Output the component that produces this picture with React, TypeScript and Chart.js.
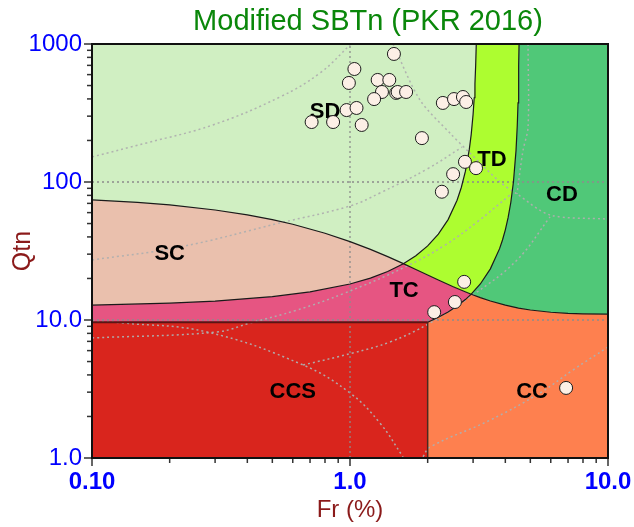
import React, { useEffect, useRef } from 'react';
import { Chart, registerables } from 'chart.js';

Chart.register(...registerables);

const FONT = '"Liberation Sans", Arial, Helvetica, sans-serif';

// ---------- text ----------
const TITLE = 'Modified SBTn (PKR 2016)';
const X_TITLE = 'Fr (%)';
const Y_TITLE = 'Qtn';
const X_TICKS = [0.1, 1, 10];
const X_TICK_LABELS = ['0.10', '1.0', '10.0'];
const Y_TICKS = [1, 10, 100, 1000];
const Y_TICK_LABELS = ['1.0', '10.0', '100', '1000'];
const MINOR_MULTS = [2, 3, 4, 5, 6, 7, 8, 9];

// ---------- CPT data points ----------
const frValues = [1.48, 1.04, 0.99, 1.28, 1.42, 1.33, 1.24, 1.51, 1.53, 1.65, 2.29, 2.53, 2.74, 2.82, 0.97, 1.06, 1.11, 0.86, 0.71, 1.9, 2.79, 3.08, 2.51, 2.27, 2.77, 2.55, 2.12, 6.88];
const qtnValues = [847, 659, 522, 549, 549, 449, 399, 442, 449, 449, 374, 399, 413, 380, 332, 344, 259, 272, 272, 208, 140, 126, 114, 85, 18.9, 13.5, 11.4, 3.22];

// ---------- zone labels ----------
const zoneNames = ['SD', 'TD', 'CD', 'SC', 'TC', 'CCS', 'CC'];
const zoneLabelFr = [0.8, 3.55, 6.63, 0.2, 1.62, 0.6, 5.08];
const zoneLabelQ = [322, 144, 80.5, 30, 16.2, 3.0, 3.0];

// ---------- axis limits ----------
const FR_RANGE = [0.1, 10];
const Q_RANGE = [1, 1000];

// ---------- zone boundaries ----------
// CD = 70 boundary
const cd70LeftFr = [0.1, 0.15, 0.2, 0.3, 0.4, 0.5, 0.6, 0.8, 1.0, 1.2, 1.4, 1.61];
const cd70LeftQ = [74.2, 71.1, 68.2, 62.7, 57.8, 53.4, 49.4, 42.5, 37.0, 32.5, 28.8, 25.6];
const cd70MidFr = [1.61, 1.8, 2.0, 2.2, 2.5, 2.75, 2.95];
const cd70MidQ = [25.6, 23.2, 21.2, 19.5, 17.5, 16.22, 15.38];
const cd70RightFr = [2.95, 3.2, 3.5, 4.0, 4.5, 5.0, 6.0, 7.0, 8.0, 10.0];
const cd70RightQ = [15.38, 14.54, 13.74, 12.81, 12.2, 11.81, 11.38, 11.18, 11.09, 11.02];
// IB = 32 boundary
const ib32LowFr = [0.1, 0.2, 0.3, 0.5, 0.7, 1.0, 1.2, 1.4, 1.61];
const ib32LowQ = [12.81, 13.25, 13.72, 14.76, 15.98, 18.24, 20.13, 22.46, 25.6];
const ib32HighFr = [1.61, 1.8, 2.0, 2.2, 2.4, 2.6, 2.7, 2.8, 2.9, 2.95, 3.0, 3.03, 3.05, 3.07, 3.0862];
const ib32HighQ = [25.6, 29.25, 34.44, 41.9, 53.4, 73.8, 91.2, 119.2, 172.2, 221.4, 310, 407.9, 516.7, 704.5, 1000];
// IB = 22 boundary
const ib22LowFr = [2.0, 2.2, 2.4, 2.6, 2.8, 2.95];
const ib22LowQ = [9.643, 10.47, 11.44, 12.62, 14.06, 15.38];
const ib22HighFr = [2.95, 3.2, 3.5, 3.8, 3.9, 4.0, 4.1, 4.2, 4.3, 4.4, 4.45, 4.48, 4.5, 4.51, 4.521];
const ib22HighQ = [15.38, 18.24, 23.48, 32.9, 38.0, 45.0, 55.1, 71.05, 100, 168.75, 257, 375, 540, 692, 1000];
// CCS / CC limits
const ccsTopQ = 9.643;
const ccLeftFr = 2.0;

// ---------- background reference contours (dotted) ----------
const ic131Fr = [0.1, 0.163, 0.294, 0.535, 0.765, 1.009];
const ic131Q = [152, 192, 259, 413, 616, 1000];
const ic205Fr = [0.1, 0.219, 0.535, 1.0, 1.307, 1.988, 2.72];
const ic205Q = [27.2, 33.8, 50.5, 67, 83.3, 124, 179];
const ic260Fr = [0.1, 0.305, 0.41, 0.623, 0.956, 1.634, 2.335, 3.107, 4.17];
const ic260Q = [7.41, 8.19, 9.51, 11.8, 15.7, 24.2, 34.9, 51.3, 80.5];
const ic295Fr = [0.658, 1.027, 1.429, 2.042, 2.997, 4.44, 5.96];
const ic295Q = [4.72, 5.77, 6.93, 9.51, 15.2, 27.2, 55.8];
const zone1Fr = [0.1, 0.132, 0.279, 0.658, 1.0, 1.307, 1.605];
const zone1Q = [9.84, 9.51, 8.19, 4.72, 2.96, 1.79, 1.02];
const zone2Fr = [1.918, 2.042, 3.488, 5.45, 7.31, 10];
const zone2Q = [1.02, 1.2, 1.88, 2.96, 4.34, 6.37];
const zone89LowFr = [1.468, 1.867, 2.441, 2.918, 3.814, 4.44, 5.96, 9.91];
const zone89LowQ = [1000, 393, 226, 162, 100, 81.9, 57.7, 53.9];
const zone89DivFr = [4.9, 4.9, 4.68, 4.44];
const zone89DivQ = [1000, 250, 168, 81.9];

// ---------- grid ----------
const gridFr = [1];
const gridQ = [10, 100];

type P = { x: number; y: number };
const pts = (fs: number[], qs: number[]): P[] => fs.map((f, i) => ({ x: f, y: qs[i] }));
const rev = (a: P[]) => [...a].reverse();

const COLORS = {
  SD: '#d0efc2',
  SC: '#eac0ad',
  TC: '#e65582',
  TD: '#adfd30',
  CD: '#50c878',
  CC: '#fe804f',
  CCS: '#d9251d',
};

export default function App() {
  const ref = useRef<HTMLCanvasElement>(null);

  useEffect(() => {
    document.body.style.margin = '0';
    const canvas = ref.current;
    if (!canvas) return;

    const cd70L = pts(cd70LeftFr, cd70LeftQ);
    const cd70M = pts(cd70MidFr, cd70MidQ);
    const cd70R = pts(cd70RightFr, cd70RightQ);
    const ib32L = pts(ib32LowFr, ib32LowQ);
    const ib32H = pts(ib32HighFr, ib32HighQ);
    const ib22L = pts(ib22LowFr, ib22LowQ);
    const ib22H = pts(ib22HighFr, ib22HighQ);
    const [fMin, fMax] = FR_RANGE;
    const [qMin, qMax] = Q_RANGE;

    const zone = (label: string, data: P[], color: string, order: number) => ({
      label, data, showLine: true, fill: 'shape', backgroundColor: color,
      borderColor: 'transparent', borderWidth: 0, pointRadius: 0, pointHoverRadius: 0, tension: 0, order,
    });
    const line = (label: string, data: P[], color: string, width: number, dash: number[], order: number, tension = 0) => ({
      label, data, showLine: true, fill: false, borderColor: color, borderWidth: width, borderDash: dash,
      backgroundColor: 'transparent', pointRadius: 0, pointHoverRadius: 0, tension, order,
    });

    const contourColor = 'rgba(175,175,175,0.95)';
    const contourDash = [2, 3];

    const datasets: any[] = [
      {
        label: 'CPT data', data: pts(frValues, qtnValues), showLine: false,
        pointRadius: 6.5, pointHoverRadius: 6.5, backgroundColor: '#fcefe6',
        borderColor: '#1c1c1c', borderWidth: 1, order: 0,
      },
      zone('SD', [{ x: fMin, y: qMin }, { x: fMin, y: qMax }, { x: fMax, y: qMax }, { x: fMax, y: qMin }], COLORS.SD, 100),
      zone('SC', [...cd70L, ...rev(ib32L)], COLORS.SC, 95),
      zone('TC', [...ib32L, ...cd70M.slice(1), ...rev(ib22L).slice(1), { x: fMin, y: ccsTopQ }], COLORS.TC, 94),
      zone('TD', [...rev(ib32H), ...cd70M.slice(1), ...ib22H.slice(1)], COLORS.TD, 93),
      zone('CD', [...ib22H, { x: fMax, y: qMax }, ...rev(cd70R)], COLORS.CD, 92),
      zone('CC', [{ x: ccLeftFr, y: qMin }, ...ib22L, ...cd70R.slice(1), { x: fMax, y: qMin }], COLORS.CC, 91),
      zone('CCS', [{ x: fMin, y: qMin }, { x: fMin, y: ccsTopQ }, { x: ccLeftFr, y: ccsTopQ }, { x: ccLeftFr, y: qMin }], COLORS.CCS, 90),
      line('Ic 1.31', pts(ic131Fr, ic131Q), contourColor, 1.5, contourDash, 50, 0.4),
      line('Ic 2.05', pts(ic205Fr, ic205Q), contourColor, 1.5, contourDash, 50, 0.4),
      line('Ic 2.60', pts(ic260Fr, ic260Q), contourColor, 1.5, contourDash, 50, 0.4),
      line('Ic 2.95', pts(ic295Fr, ic295Q), contourColor, 1.5, contourDash, 50, 0.4),
      line('Zone 1', pts(zone1Fr, zone1Q), contourColor, 1.5, contourDash, 50, 0.4),
      line('Zone 2', pts(zone2Fr, zone2Q), contourColor, 1.5, contourDash, 50, 0.4),
      line('Zone 8/9 low', pts(zone89LowFr, zone89LowQ), contourColor, 1.5, contourDash, 50, 0.3),
      line('Zone 8/9 div', pts(zone89DivFr, zone89DivQ), contourColor, 1.5, contourDash, 50, 0.3),
      ...gridFr.map((f) => line('grid F', [{ x: f, y: qMin }, { x: f, y: qMax }], '#8c8c8c', 1.3, [2, 3], 45)),
      ...gridQ.map((q) => line('grid Q', [{ x: fMin, y: q }, { x: fMax, y: q }], '#8c8c8c', 1.3, [2, 3], 45)),
      line('CD=70', [...cd70L, ...cd70M.slice(1), ...cd70R.slice(1)], '#1a1a1a', 1.2, [], 40),
      line('IB=32', [...ib32L, ...ib32H.slice(1)], '#1a1a1a', 1.2, [], 40),
      line('IB=22', [...ib22L, ...ib22H.slice(1)], '#1a1a1a', 1.2, [], 40),
      line('CCS top', [{ x: fMin, y: ccsTopQ }, { x: ccLeftFr, y: ccsTopQ }], '#5a1515', 2, [], 40),
      line('CC left', [{ x: ccLeftFr, y: qMin }, { x: ccLeftFr, y: ccsTopQ }], '#4a2a20', 1.5, [], 40),
    ];

    const labelsPlugin = {
      id: 'zoneLabels',
      beforeDatasetDraw(chart: any, args: any) {
        if (chart.data.datasets[args.index].label !== 'CPT data') return;
        const { ctx, scales } = chart;
        ctx.save();
        ctx.font = `bold 22px ${FONT}`;
        ctx.fillStyle = '#000';
        ctx.textAlign = 'center';
        ctx.textBaseline = 'middle';
        zoneNames.forEach((n, i) => {
          ctx.fillText(n, scales.x.getPixelForValue(zoneLabelFr[i]), scales.y.getPixelForValue(zoneLabelQ[i]));
        });
        ctx.restore();
      },
    };

    const framePlugin = {
      id: 'frameTicks',
      afterDraw(chart: any) {
        const { ctx, chartArea: a, scales } = chart;
        const xs = scales.x;
        const ys = scales.y;
        const seg = (x1: number, y1: number, x2: number, y2: number) => {
          ctx.beginPath(); ctx.moveTo(x1, y1); ctx.lineTo(x2, y2); ctx.stroke();
        };
        ctx.save();
        ctx.strokeStyle = '#333';
        ctx.lineWidth = 1.5;
        X_TICKS.forEach((v, i) => {
          const p = xs.getPixelForValue(v);
          seg(p, a.bottom, p, a.bottom + 8);
          if (i < X_TICKS.length - 1) {
            MINOR_MULTS.forEach((m) => {
              const q = xs.getPixelForValue(v * m);
              seg(q, a.bottom, q, a.bottom + 5);
            });
          }
        });
        Y_TICKS.forEach((v, i) => {
          const p = ys.getPixelForValue(v);
          seg(a.left - 8, p, a.left, p);
          if (i < Y_TICKS.length - 1) {
            MINOR_MULTS.forEach((m) => {
              const q = ys.getPixelForValue(v * m);
              seg(a.left - 5, q, a.left, q);
            });
          }
        });
        ctx.strokeStyle = '#111';
        ctx.lineWidth = 2;
        ctx.strokeRect(a.left, a.top, a.right - a.left, a.bottom - a.top);
        // title
        ctx.font = `29px ${FONT}`;
        ctx.fillStyle = '#0a870a';
        ctx.textAlign = 'center';
        ctx.textBaseline = 'alphabetic';
        ctx.fillText(TITLE, 368, 30);
        ctx.restore();
      },
    };

    const chart = new Chart(canvas, {
      type: 'scatter',
      data: { datasets },
      plugins: [labelsPlugin, framePlugin],
      options: {
        animation: false,
        responsive: false,
        devicePixelRatio: 1,
        events: [],
        layout: { padding: { top: 44, right: 26, left: 0, bottom: 0 } },
        plugins: { legend: { display: false }, tooltip: { enabled: false }, title: { display: false } },
        scales: {
          x: {
            type: 'logarithmic',
            min: FR_RANGE[0],
            max: FR_RANGE[1],
            position: 'bottom',
            grid: { display: false, drawTicks: false },
            border: { display: false },
            afterBuildTicks: (scale: any) => { scale.ticks = X_TICKS.map((v) => ({ value: v })); },
            afterFit: (scale: any) => {
              scale.height = 69;
              scale.paddingLeft = 0;
              scale.paddingRight = 0;
            },
            ticks: {
              autoSkip: false, maxRotation: 0, minRotation: 0, padding: 10,
              color: '#0000ff', font: { family: FONT, size: 24, weight: 'bold' },
              callback: (_v: any, i: number) => X_TICK_LABELS[i],
            },
            title: {
              display: true, text: X_TITLE, color: '#8b1a1a',
              font: { family: FONT, size: 24 }, padding: { top: 0, bottom: 2 },
            },
          },
          y: {
            type: 'logarithmic',
            min: Q_RANGE[0],
            max: Q_RANGE[1],
            position: 'left',
            grid: { display: false, drawTicks: false },
            border: { display: false },
            afterBuildTicks: (scale: any) => { scale.ticks = Y_TICKS.map((v) => ({ value: v })); },
            afterFit: (scale: any) => {
              scale.width = 92;
              scale.paddingTop = 0;
              scale.paddingBottom = 0;
            },
            ticks: {
              autoSkip: false, padding: 10,
              color: '#0000ff', font: { family: FONT, size: 24 },
              callback: (_v: any, i: number) => Y_TICK_LABELS[i],
            },
            title: {
              display: true, text: Y_TITLE, color: '#8b1a1a',
              font: { family: FONT, size: 25 }, padding: { top: 8, bottom: 0 },
            },
          },
        },
      } as any,
    });

    return () => chart.destroy();
  }, []);

  return <canvas ref={ref} width={634} height={527} style={{ display: 'block' }} />;
}
